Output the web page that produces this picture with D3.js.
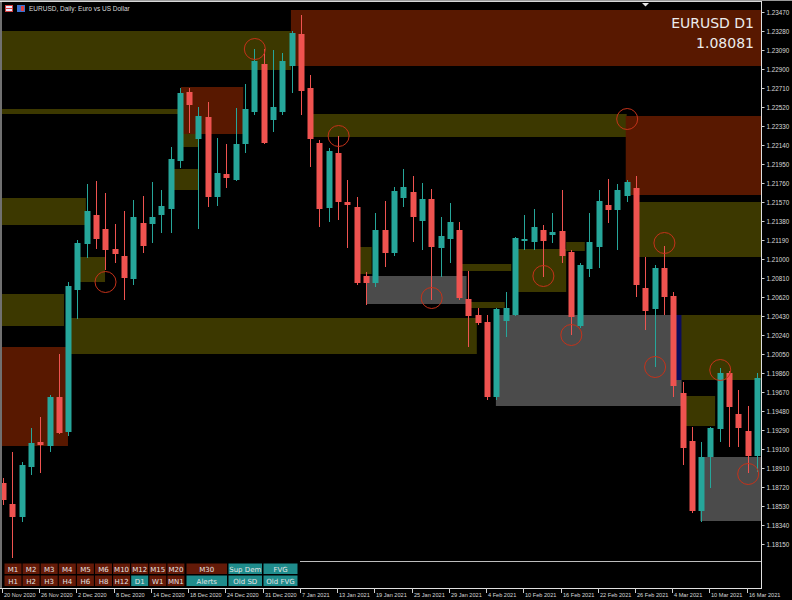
<!DOCTYPE html>
<html><head><meta charset="utf-8">
<script src="https://cdn.jsdelivr.net/npm/d3@7/dist/d3.min.js"></script>
<style>html,body{margin:0;padding:0;background:#000;}svg{display:block;}</style>
</head><body>
<script>
// ---------- DATA ----------
const dates = ["20 Nov 2020","23 Nov 2020","24 Nov 2020","25 Nov 2020","26 Nov 2020","27 Nov 2020","30 Nov 2020",
"1 Dec 2020","2 Dec 2020","3 Dec 2020","4 Dec 2020","7 Dec 2020","8 Dec 2020","9 Dec 2020","10 Dec 2020","11 Dec 2020",
"14 Dec 2020","15 Dec 2020","16 Dec 2020","17 Dec 2020","18 Dec 2020","21 Dec 2020","22 Dec 2020","23 Dec 2020","24 Dec 2020",
"28 Dec 2020","29 Dec 2020","30 Dec 2020","31 Dec 2020","4 Jan 2021","5 Jan 2021","6 Jan 2021","7 Jan 2021","8 Jan 2021",
"11 Jan 2021","12 Jan 2021","13 Jan 2021","14 Jan 2021","15 Jan 2021","18 Jan 2021","19 Jan 2021","20 Jan 2021","21 Jan 2021",
"22 Jan 2021","25 Jan 2021","26 Jan 2021","27 Jan 2021","28 Jan 2021","29 Jan 2021","1 Feb 2021","2 Feb 2021","3 Feb 2021",
"4 Feb 2021","5 Feb 2021","8 Feb 2021","9 Feb 2021","10 Feb 2021","11 Feb 2021","12 Feb 2021","15 Feb 2021","16 Feb 2021",
"17 Feb 2021","18 Feb 2021","19 Feb 2021","22 Feb 2021","23 Feb 2021","24 Feb 2021","25 Feb 2021","26 Feb 2021","1 Mar 2021",
"2 Mar 2021","3 Mar 2021","4 Mar 2021","5 Mar 2021","8 Mar 2021","9 Mar 2021","10 Mar 2021","11 Mar 2021","12 Mar 2021",
"15 Mar 2021","16 Mar 2021","17 Mar 2021"];

const open  = [1.1876,1.1855,1.1842,1.1892,1.1917,1.1913,1.1962,1.1927,1.2069,1.2115,1.2144,1.2130,1.2110,1.2103,1.2080,1.2136,
1.2135,1.2144,1.2150,1.2198,1.2267,1.2220,1.2242,1.2162,1.2185,1.2179,1.2215,1.2247,1.2295,1.2239,1.2247,1.2293,
1.2325,1.2271,1.2216,1.2151,1.2206,1.2157,1.2152,1.2083,1.2076,1.2129,1.2106,1.2161,1.2167,1.2138,1.2160,1.2111,
1.2120,1.2129,1.2060,1.2044,1.2037,1.1962,1.2038,1.2044,1.2118,1.2117,1.2129,1.2124,1.2128,1.2107,1.2033,1.2090,
1.2112,1.2154,1.2149,1.2163,1.2171,1.2071,1.2050,1.2091,1.2063,1.1966,1.1918,1.1848,1.1902,1.1930,1.1986,1.1945,
1.1928,1.1903];
const high  = [1.1881,1.1907,1.1897,1.1931,1.1942,1.1964,1.2005,1.2077,1.2119,1.2175,1.2178,1.2166,1.2135,1.2148,1.2159,1.2163,
1.2177,1.2169,1.2212,1.2271,1.2271,1.2252,1.2257,1.2221,1.2215,1.2251,1.2275,1.2310,1.2310,1.2309,1.2306,1.2328,
1.2344,1.2284,1.2219,1.2211,1.2223,1.2179,1.2162,1.2087,1.2146,1.2158,1.2172,1.2190,1.2183,1.2176,1.2170,1.2142,
1.2156,1.2137,1.2088,1.2051,1.2044,1.2051,1.2067,1.2122,1.2144,1.2150,1.2134,1.2146,1.2169,1.2109,1.2096,1.2146,
1.2169,1.2180,1.2175,1.2179,1.2183,1.2102,1.2094,1.2113,1.2067,1.1977,1.1932,1.1917,1.1932,1.1991,1.1988,1.1969,
1.1953,1.1986];
const low   = [1.1854,1.1801,1.1837,1.1884,1.1886,1.1907,1.1925,1.1923,1.2040,1.2101,1.2110,1.2089,1.2096,1.2059,1.2074,1.2106,
1.2116,1.2126,1.2126,1.2191,1.2226,1.2130,1.2152,1.2153,1.2171,1.2178,1.2206,1.2244,1.2215,1.2227,1.2244,1.2266,
1.2244,1.2192,1.2132,1.2137,1.2139,1.2111,1.2074,1.2054,1.2072,1.2092,1.2103,1.2152,1.2117,1.2109,1.2059,1.2082,
1.2096,1.2059,1.2012,1.2034,1.1959,1.1959,1.2022,1.2043,1.2109,1.2109,1.2082,1.2116,1.2096,1.2024,1.2031,1.2082,
1.2091,1.2136,1.2109,1.2157,1.2062,1.2029,1.1992,1.2044,1.1962,1.1894,1.1846,1.1837,1.1871,1.1917,1.1912,1.1912,
1.1886,1.1887];
const close = [1.1859,1.1842,1.1894,1.1916,1.1914,1.1962,1.1926,1.2073,1.2116,1.2148,1.2120,1.2109,1.2105,1.2081,1.2142,1.2113,
1.2142,1.2153,1.2200,1.2266,1.2254,1.2243,1.2162,1.2186,1.2181,1.2215,1.2250,1.2298,1.2216,1.2252,1.2298,1.2326,
1.2268,1.2220,1.2150,1.2208,1.2157,1.2154,1.2076,1.2076,1.2129,1.2106,1.2168,1.2172,1.2142,1.2160,1.2112,1.2123,
1.2137,1.2061,1.2043,1.2036,1.1962,1.2050,1.2051,1.2121,1.2120,1.2132,1.2118,1.2127,1.2103,1.2042,1.2094,1.2117,
1.2158,1.2149,1.2169,1.2177,1.2074,1.2048,1.2091,1.2062,1.1973,1.1911,1.1848,1.1902,1.1931,1.1986,1.1952,1.1931,
1.1903,1.1981];

// supply / demand / FVG zones: [fromBar, toBar, topPrice, bottomPrice, kind]
const zoneFrom = [30.93,-1,-1,19.1,19.1,18.26,33.2,66.9,68.2,-1,8.27,-1,7.3,-1,38.1,39.0,49.3,49.9,55.2,60.5,52.95,72.3,72.9,72.9,74.9];
const zoneTo   = [84,30.93,18.8,25.8,20.95,20.95,67.0,84,84,8.9,10.96,6.55,50.9,6.98,39.6,49.8,54.6,53.9,60.5,62.5,72.9,72.9,84,76.5,84];
const zoneTop  = [1.2349,1.2328,1.2250,1.2272,1.2225,1.2190,1.2245,1.2243,1.2157,1.2161,1.2102,1.2065,1.2041,1.2012,1.2112,1.2083,1.2095,1.2057,1.2110,1.2117,1.2044,1.2044,1.2044,1.1963,1.1902];
const zoneBot  = [1.2293,1.2289,1.2245,1.2225,1.2212,1.2169,1.2222,1.2164,1.2102,1.2134,1.2077,1.2033,1.2005,1.1913,1.2085,1.2055,1.2088,1.2051,1.2067,1.2108,1.1953,1.1979,1.1979,1.1933,1.1838];
const zoneKind = ["supply","demand","demand","supply","demand","demand","demand","supply","demand","demand","demand","demand","demand","supply","demand","old","demand","demand","demand","demand","old","fvg","demand","demand","old"];

// signal circles: bar index, price
const circleBar   = [10.96,27,36,46,58,61,67,70,71,77,80];
const circlePrice = [1.2077,1.2310,1.2223,1.2061,1.2083,1.2024,1.2240,1.1992,1.2116,1.1989,1.1885];

const priceTicks = [1.23470,1.23280,1.23090,1.22900,1.22710,1.22520,1.22330,1.22140,1.21950,1.21760,1.21570,1.21380,1.21190,
1.21000,1.20810,1.20620,1.20430,1.20240,1.20050,1.19860,1.19670,1.19480,1.19290,1.19100,1.18910,1.18720,1.18530,1.18340,1.18150];
const dateTickLabels = ["20 Nov 2020","26 Nov 2020","2 Dec 2020","8 Dec 2020","14 Dec 2020","18 Dec 2020","24 Dec 2020",
"31 Dec 2020","7 Jan 2021","13 Jan 2021","19 Jan 2021","25 Jan 2021","29 Jan 2021","4 Feb 2021","10 Feb 2021","16 Feb 2021",
"22 Feb 2021","26 Feb 2021","4 Mar 2021","10 Mar 2021","16 Mar 2021"];

const buttonsRow1 = ["M1","M2","M3","M4","M5","M6","M10","M12","M15","M20"];
const buttonsRow2 = ["H1","H2","H3","H4","H6","H8","H12","D1","W1","MN1"];
const activeButtons = ["D1"];

// ---------- LAYOUT ----------
const W = 792, H = 600;
const plot = {l: 2, r: 761, t: 2, b: 588};
const svg = d3.select("body").append("svg").attr("width", W).attr("height", H)
  .style("background", "#000").style("font-family", "'Liberation Sans', Arial, sans-serif");

const x = d3.scaleLinear().domain([0, dates.length - 1]).range([3, 757]);
const y = d3.scaleLinear().domain([1.1771, 1.2359]).range([plot.b, 0]);

svg.append("defs").append("clipPath").attr("id", "clip")
  .append("rect").attr("x", plot.l).attr("y", plot.t).attr("width", plot.r - plot.l).attr("height", plot.b - plot.t);

const g = svg.append("g").attr("clip-path", "url(#clip)");

const zoneColor = {supply: "#581800", demand: "#3c3800", old: "#4b4b4b", fvg: "#0c0c5c"};
const zones = zoneFrom.map((f, i) => ({f, t: zoneTo[i], top: zoneTop[i], bot: zoneBot[i], k: zoneKind[i]}));
g.selectAll("rect.zone").data(zones).join("rect").attr("class", "zone")
  .attr("x", d => x(d.f)).attr("width", d => x(d.t) - x(d.f))
  .attr("y", d => y(d.top)).attr("height", d => y(d.bot) - y(d.top))
  .attr("fill", d => zoneColor[d.k]);

const candles = dates.map((d, i) => ({d, i, o: open[i], h: high[i], l: low[i], c: close[i]}));
const up = "#26a69a", dn = "#ef5350";
const cg = g.selectAll("g.candle").data(candles).join("g").attr("class", "candle");
cg.append("line")
  .attr("x1", d => Math.round(x(d.i)) + 0.5).attr("x2", d => Math.round(x(d.i)) + 0.5)
  .attr("y1", d => y(d.h)).attr("y2", d => y(d.l))
  .attr("stroke", d => d.c >= d.o ? up : dn).attr("stroke-width", 1);
cg.append("rect")
  .attr("x", d => Math.round(x(d.i)) - 2.5).attr("width", 6)
  .attr("y", d => y(Math.max(d.o, d.c)))
  .attr("height", d => Math.max(1.5, Math.abs(y(d.o) - y(d.c))))
  .attr("fill", d => d.c >= d.o ? up : dn);

g.selectAll("circle.sig").data(circleBar.map((b, i) => ({b, p: circlePrice[i]}))).join("circle")
  .attr("class", "sig").attr("cx", d => x(d.b) + 0.5).attr("cy", d => y(d.p)).attr("r", 10.5)
  .attr("fill", "none").attr("stroke", "#c4321a").attr("stroke-width", 1);

// frame
svg.append("line").attr("x1", 0).attr("x2", W).attr("y1", 0.5).attr("y2", 0.5).attr("stroke", "#9a9a9a");
svg.append("line").attr("x1", 0).attr("x2", plot.r).attr("y1", 1.5).attr("y2", 1.5).attr("stroke", "#d8d8d8");
svg.append("line").attr("x1", 1).attr("x2", 1).attr("y1", 1).attr("y2", plot.b).attr("stroke", "#e0e0e0");
svg.append("line").attr("x1", plot.r + 0.5).attr("x2", plot.r + 0.5).attr("y1", 1).attr("y2", plot.b + 1).attr("stroke", "#e0e0e0");
svg.append("line").attr("x1", 0).attr("x2", plot.r + 1).attr("y1", plot.b + 0.5).attr("y2", plot.b + 0.5).attr("stroke", "#e0e0e0");
svg.append("line").attr("x1", 300).attr("x2", plot.r).attr("y1", 561.5).attr("y2", 561.5).attr("stroke", "#bdbdbd");

// chart shift marker
svg.append("path").attr("d", "M642,3 L649,3 L645.5,6.5 Z").attr("fill", "#e8e8e8");

// price axis
const yAxis = d3.axisRight(y).tickValues(priceTicks).tickSize(3).tickPadding(2).tickFormat(d3.format(".5f"));
const ya = svg.append("g").attr("transform", `translate(${plot.r + 0.5},0)`).call(yAxis);
ya.select(".domain").remove();
ya.selectAll("line").attr("stroke", "#d0d0d0");
ya.selectAll("text").attr("fill", "#d8d8d8").style("font-size", "6.3px").style("font-family", "'Liberation Sans', Arial, sans-serif");

// date axis
const tickIdx = dateTickLabels.map(l => dates.indexOf(l));
const xa = svg.append("g");
xa.selectAll("line").data(tickIdx).join("line")
  .attr("x1", d => Math.round(x(d)) - 0.5).attr("x2", d => Math.round(x(d)) - 0.5)
  .attr("y1", plot.b).attr("y2", plot.b + 5).attr("stroke", "#d0d0d0");
xa.selectAll("text").data(tickIdx).join("text")
  .attr("x", d => Math.round(x(d)) + 1).attr("y", 596.5)
  .attr("fill", "#d8d8d8").style("font-size", "5.6px")
  .text(d => dates[d]);

// title
svg.append("rect").attr("x", 5).attr("y", 5).attr("width", 8).attr("height", 7).attr("fill", "#d04040");
svg.append("rect").attr("x", 6).attr("y", 6).attr("width", 6).attr("height", 2).attr("fill", "#e8e8ff");
svg.append("rect").attr("x", 6).attr("y", 9).attr("width", 6).attr("height", 2).attr("fill", "#e8e8ff");
svg.append("rect").attr("x", 17).attr("y", 5).attr("width", 8).attr("height", 7).attr("fill", "#3a70d0");
svg.append("rect").attr("x", 21).attr("y", 6).attr("width", 3).attr("height", 5).attr("fill", "#e04040");
svg.append("text").attr("x", 29).attr("y", 11).attr("fill", "#d8d8d8").style("font-size", "6.5px")
  .text("EURUSD, Daily:  Euro vs US Dollar");

svg.append("text").attr("x", 754).attr("y", 28).attr("text-anchor", "end").attr("fill", "#ececec")
  .style("font-family", "'DejaVu Sans', Verdana, sans-serif").style("font-size", "14px").text("EURUSD D1");
svg.append("text").attr("x", 754).attr("y", 48).attr("text-anchor", "end").attr("fill", "#ececec")
  .style("font-family", "'DejaVu Sans', Verdana, sans-serif").style("font-size", "14px").text(close[close.length - 1] > 0 ? "1.08081" : "");

// buttons
const maroon = "#641a08", teal = "#1f8c8c";
const bx = d3.scaleLinear().domain([0, 1]).range([4.5, 22.6]);
function button(label, x0, w, y0, on) {
  svg.append("rect").attr("x", x0).attr("y", y0).attr("width", w).attr("height", 10.5).attr("fill", on ? teal : maroon);
  svg.append("text").attr("x", x0 + w / 2).attr("y", y0 + 8).attr("text-anchor", "middle")
    .attr("fill", "#e4e4e4").style("font-size", "7px").style("font-family", "'DejaVu Sans', Verdana, sans-serif").text(label);
}
buttonsRow1.forEach((b, i) => button(b, bx(i), 17, 563.5, activeButtons.includes(b)));
buttonsRow2.forEach((b, i) => button(b, bx(i), 17, 575.5, activeButtons.includes(b)));
button("M30", 186.5, 40.5, 563.5, false);
button("Alerts", 186.5, 40.5, 575.5, true);
button("Sup Dem", 228.5, 33.5, 563.5, true);
button("Old SD", 228.5, 33.5, 575.5, true);
button("FVG", 263.5, 34, 563.5, true);
button("Old FVG", 263.5, 34, 575.5, true);
</script>
</body></html>
